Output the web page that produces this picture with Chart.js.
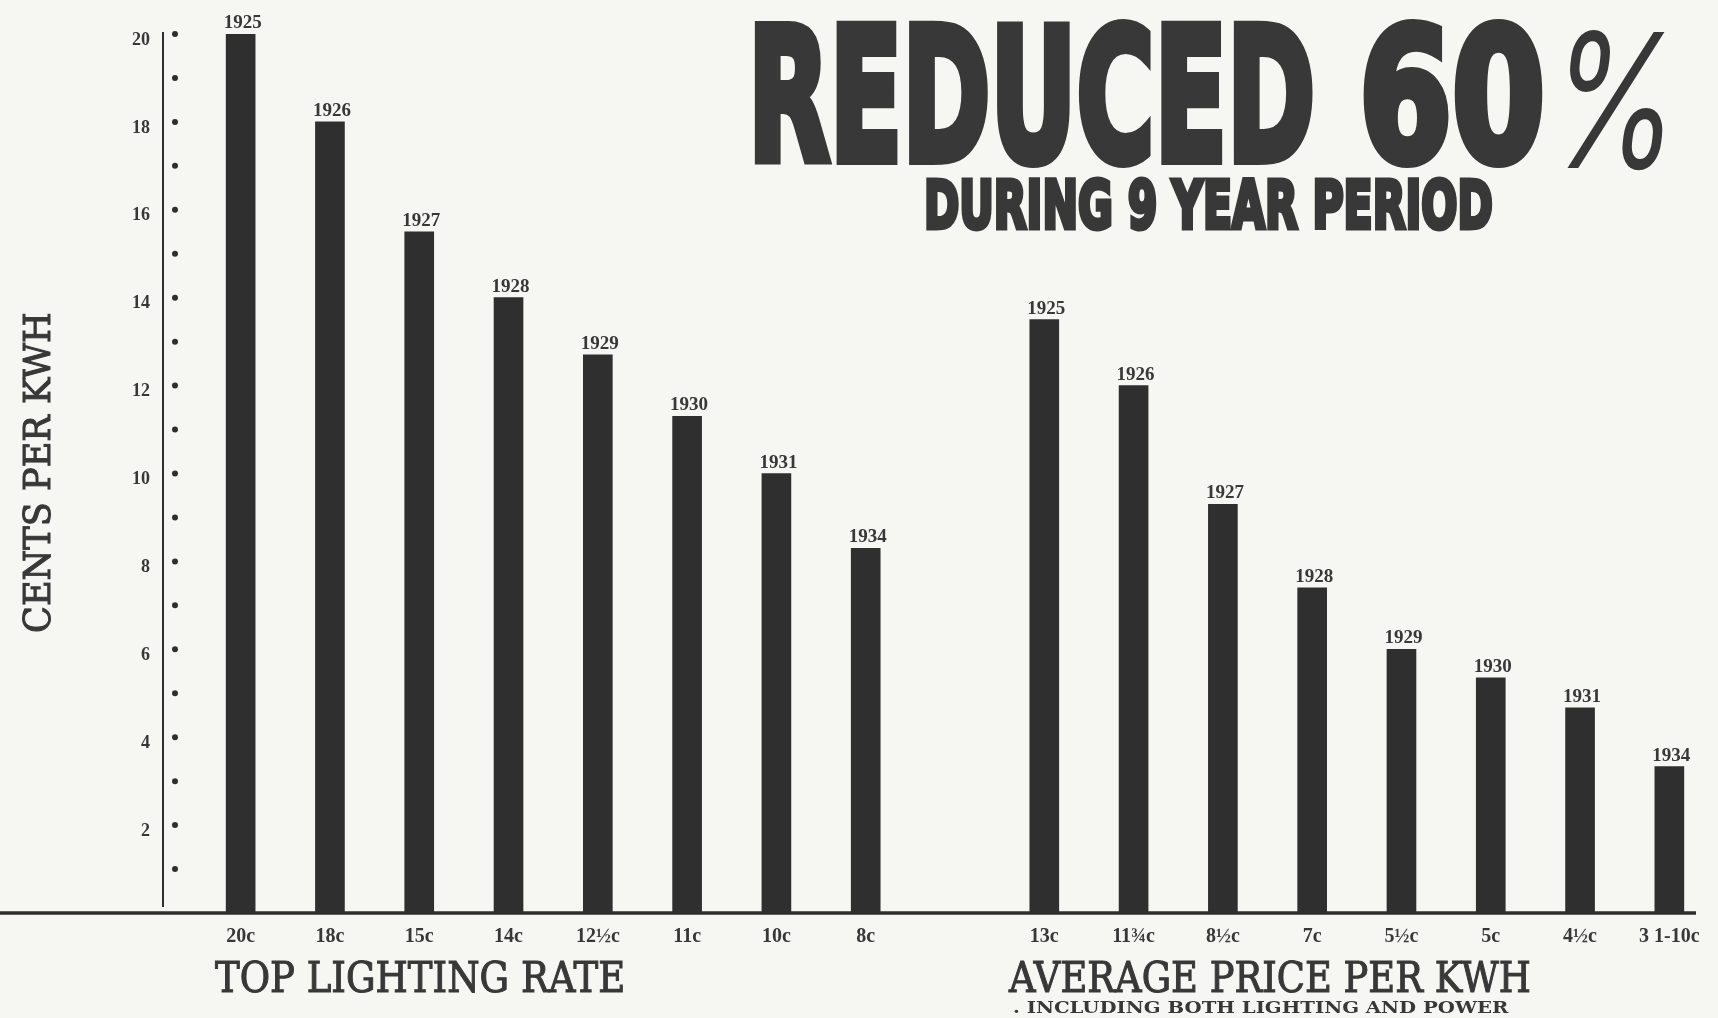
<!DOCTYPE html>
<html>
<head>
<meta charset="utf-8">
<title>Reduced 60% During 9 Year Period</title>
<script src="https://cdn.jsdelivr.net/npm/chart.js@4.4.1/dist/chart.umd.min.js"></script>
<style>
  html, body { margin: 0; padding: 0; background: #f6f6f3; }
  #wrap { position: relative; width: 1718px; height: 1018px; overflow: hidden; }
  #chart { position: absolute; left: 0; top: 0; }
  .txt { position: absolute; white-space: nowrap; line-height: 1; color: #383838; transform-origin: 0 0; }
  .head { font-family: "DejaVu Sans", sans-serif; font-weight: bold; }
  .serif { font-family: "DejaVu Serif", serif; -webkit-text-stroke: 1.1px #383838; }
</style>
</head>
<body>
<div id="wrap">
  <canvas id="chart" width="1718" height="1018"></canvas>

  <div class="txt head" data-w="567" style="left:748px; top:4px; font-size:184px; -webkit-text-stroke:10px #383838">REDUCED</div>
  <div class="txt head" data-w="186" style="left:1359px; top:4px; font-size:184px; -webkit-text-stroke:10px #383838">60</div>
  <div class="txt" data-w="128" style="left:1550px; top:8px; font-size:184px; font-family:Inter, 'DejaVu Sans', sans-serif; font-weight:300; font-style:italic; -webkit-text-stroke:2px #383838">%</div>
  <div class="txt head" data-w="569" style="left:924px; top:173px; font-size:66px; -webkit-text-stroke:5px #383838">DURING 9 YEAR PERIOD</div>

  <div class="txt serif" data-w="321" data-rot="1" style="left:18px; top:633px; font-size:38px">CENTS PER KWH</div>

  <div class="txt serif" data-w="410" style="left:215px; top:957px; font-size:42px">TOP LIGHTING RATE</div>
  <div class="txt serif" data-w="522" style="left:1009px; top:957px; font-size:42px">AVERAGE PRICE PER KWH</div>
  <div class="txt serif" data-w="496" style="left:1013px; top:1000px; font-size:16px; font-weight:bold; -webkit-text-stroke:0">. INCLUDING BOTH LIGHTING AND POWER</div>
</div>

<script>
// top lighting rate, cents per kwh
const rateLabels = ['20c', '18c', '15c', '14c', '12½c', '11c', '10c', '8c']
const rateYears = ['1925', '1926', '1927', '1928', '1929', '1930', '1931', '1934']
const rateValues = [20, 18, 15.5, 14, 12.7, 11.3, 10, 8.3]

// average price per kwh, lighting and power
const priceLabels = ['13c', '11¾c', '8½c', '7c', '5½c', '5c', '4½c', '3 1-10c']
const priceYears = ['1925', '1926', '1927', '1928', '1929', '1930', '1931', '1934']
const priceValues = [13.5, 12, 9.3, 7.4, 6, 5.35, 4.67, 3.33]

const yMax = 20
const yStep = 2

const ink = '#2f2f2f'
const textInk = '#383838'

// one empty slot keeps the two groups apart
const categories = [...rateLabels, '', ...priceLabels]
const values = [...rateValues, null, ...priceValues]
const years = [...rateYears, '', ...priceYears]

const newsprint = {
  id: 'newsprint',
  afterDatasetsDraw(chart) {
    const {ctx, chartArea, scales: {y}} = chart
    const zero = y.getPixelForValue(0)
    ctx.save()
    ctx.strokeStyle = ink
    ctx.fillStyle = ink

    ctx.lineWidth = 3.5
    ctx.beginPath()
    ctx.moveTo(0, zero)
    ctx.lineTo(chartArea.right - 18, zero)
    ctx.stroke()

    const axisX = chartArea.left - 33
    ctx.lineWidth = 2
    ctx.beginPath()
    ctx.moveTo(axisX, y.getPixelForValue(yMax) - 2)
    ctx.lineTo(axisX, zero - 6)
    ctx.stroke()

    for (let v = 1; v <= yMax; v++) {
      ctx.beginPath()
      ctx.arc(axisX + 12, y.getPixelForValue(v), 3, 0, Math.PI * 2)
      ctx.fill()
    }

    ctx.fillStyle = textInk
    ctx.font = 'bold 19px "Liberation Serif", serif'
    ctx.textAlign = 'center'
    ctx.textBaseline = 'alphabetic'
    chart.getDatasetMeta(0).data.forEach((bar, i) => {
      if (!years[i] || values[i] == null) return
      ctx.fillText(years[i], bar.x + 2, bar.y - 6)
    })
    ctx.restore()
  }
}

const chart = new Chart(document.getElementById('chart'), {
  type: 'bar',
  data: {
    labels: categories,
    datasets: [{
      data: values,
      backgroundColor: ink,
      borderWidth: 0,
      barThickness: 29
    }]
  },
  options: {
    responsive: false,
    animation: false,
    layout: {padding: {top: 34, right: 4, left: 0, bottom: 0}},
    plugins: {
      legend: {display: false},
      tooltip: {enabled: false},
      title: {display: false}
    },
    scales: {
      x: {
        grid: {display: false, drawTicks: false},
        border: {display: false},
        ticks: {
          color: textInk,
          font: {family: '"Liberation Serif", serif', weight: 'bold', size: 20},
          padding: 12,
          maxRotation: 0,
          autoSkip: false
        },
        afterFit: scale => { scale.height = 105 }
      },
      y: {
        min: 0,
        max: yMax,
        grid: {display: false, drawTicks: false},
        border: {display: false},
        ticks: {
          stepSize: yStep,
          color: textInk,
          font: {family: '"Liberation Serif", serif', weight: 'bold', size: 18},
          padding: 46,
          labelOffset: 6,
          callback: v => v === 0 ? '' : v
        },
        afterFit: scale => {
          scale.width = 196
          // the wide tick padding would otherwise push the plot down
          scale.paddingTop = 0
          scale.paddingBottom = 0
        }
      }
    }
  },
  plugins: [newsprint]
})

function fitText() {
  document.querySelectorAll('.txt').forEach(el => {
    const base = el.dataset.rot ? 'rotate(-90deg) ' : ''
    el.style.transform = base
    const natural = el.offsetWidth
    el.style.transform = base + 'scaleX(' + (+el.dataset.w / natural) + ')'
  })
}
fitText()
if (document.fonts) document.fonts.ready.then(fitText)
</script>
</body>
</html>
